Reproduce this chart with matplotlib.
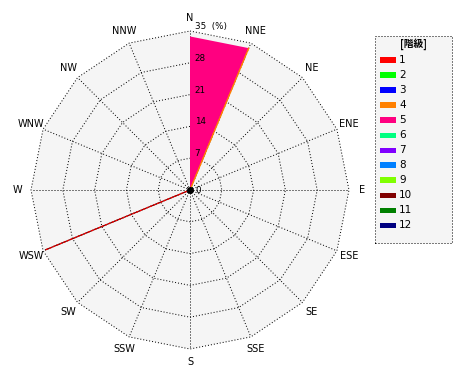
import numpy as np
import matplotlib
matplotlib.use('Agg')
import matplotlib.pyplot as plt
from matplotlib.patches import Polygon, Rectangle

# 16 compass directions, clockwise from north
directions = ['N', 'NNE', 'NE', 'ENE', 'E', 'ESE', 'SE', 'SSE',
              'S', 'SSW', 'SW', 'WSW', 'W', 'WNW', 'NW', 'NNW']
ring_values = [7, 14, 21, 28, 35]
ring_labels = ['7', '14', '21', '28', '35  (%)']
r_max = 35

# wind class legend
class_names = ['1', '2', '3', '4', '5', '6', '7', '8', '9', '10', '11', '12']
class_colors = ['#ff0000', '#00ff00', '#0000ff', '#ff8000', '#ff0080', '#00ff80',
                '#8000ff', '#0080ff', '#80ff00', '#800000', '#008000', '#000080']

# filled sectors: class, from direction, to direction, frequency (%)
sector_class = [5]
sector_from = ['N']
sector_to = ['NNE']
sector_value = [33.8]

# zero-width sectors drawn as lines: class, direction, frequency (%)
line_class = [4, 1]
line_dir = ['NNE', 'WSW']
line_value = [33.8, 34.4]
line_class2 = [4, 10]   # second colour interleaved on the line


def xy(r, d):
    # compass angle -> cartesian
    ang = np.deg2rad(90 - 22.5 * directions.index(d))
    return r * np.cos(ang), r * np.sin(ang)


W, H = 470, 380
fig = plt.figure(figsize=(W / 100, H / 100), dpi=100)
ax = fig.add_axes([0, 0, 1, 1])
scale = 159 / r_max          # px per %
cx, cy = 190, 190
ax.set_xlim(-cx / scale, (W - cx) / scale)
ax.set_ylim(-(H - cy) / scale, cy / scale)
ax.set_aspect('equal')
ax.axis('off')

dot = dict(color='black', lw=0.72, ls=(0, (1, 2)))

# background polygon
outer = [xy(r_max, d) for d in directions]
ax.add_patch(Polygon(outer, closed=True, facecolor='#f5f5f5', edgecolor='none', zorder=0))

# sectors
for c, d0, d1, v in zip(sector_class, sector_from, sector_to, sector_value):
    pts = [(0, 0), xy(v, d0), xy(v, d1)]
    ax.add_patch(Polygon(pts, closed=True, facecolor=class_colors[c - 1],
                         edgecolor='none', zorder=2))

# grid rings and spokes
for r in ring_values:
    pts = [xy(r, d) for d in directions] + [xy(r, directions[0])]
    ax.plot([p[0] for p in pts], [p[1] for p in pts], zorder=1, **dot)
for d in directions:
    x, y = xy(r_max, d)
    ax.plot([0, x], [0, y], zorder=1, **dot)

# line sectors
for c, c2, d, v in zip(line_class, line_class2, line_dir, line_value):
    x, y = xy(v, d)
    ax.plot([0, x], [0, y], color=class_colors[c2 - 1], lw=0.9, zorder=3)
    ax.plot([0, x], [0, y], color=class_colors[c - 1], lw=0.9,
            ls=(0, (1.5, 1.5)), zorder=3)

ax.plot(0, 0, 'o', color='black', ms=4, zorder=4)

# ring labels
for r, lab in zip(ring_values, ring_labels):
    ax.text(1.0, r, lab, fontsize=6.3, ha='left', va='bottom', zorder=5)
ax.text(1.2, 0, '0', fontsize=6.3, ha='left', va='center', zorder=5)

# direction labels
for d in directions:
    x, y = xy(37.9, d)
    ax.text(x, y, d, fontsize=7, ha='center', va='center')

# legend box (pixel coordinates)
def fx(px):
    return px / W


def fy(py):
    return 1 - py / H


fig.patches.append(Rectangle((fx(375), fy(243)), fx(452) - fx(375), fy(36) - fy(243),
                             transform=fig.transFigure, facecolor='#f5f5f5',
                             edgecolor='black', **{k: v for k, v in dot.items() if k != 'color'}))
fig.text(fx(413), fy(44), '[階級]', fontsize=7, ha='center', va='center',
         family=['Noto Sans CJK JP', 'DejaVu Sans'], weight='bold')
for i, (name, col) in enumerate(zip(class_names, class_colors)):
    yy = 60 + 15 * i
    fig.patches.append(Rectangle((fx(380), fy(yy + 2.5)), fx(396) - fx(380), 5 / H,
                                 transform=fig.transFigure, facecolor=col,
                                 edgecolor='none'))
    fig.text(fx(399), fy(yy), name, fontsize=7.5, ha='left', va='center')

fig.savefig('out.png', dpi=100)
